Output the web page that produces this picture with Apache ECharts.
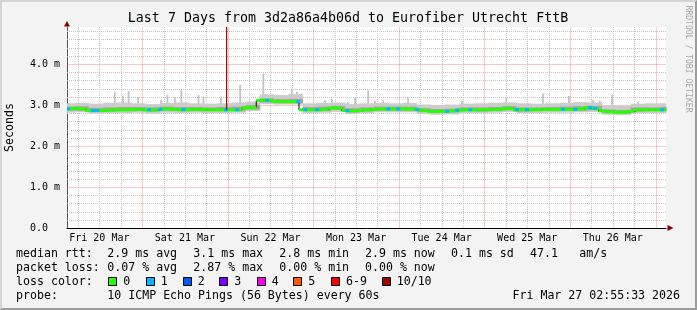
<!DOCTYPE html>
<html><head><meta charset="utf-8">
<script src="https://cdn.jsdelivr.net/npm/echarts@6/dist/echarts.min.js"></script>
<style>
html,body{margin:0;padding:0;background:#f3f3f3;}
#wrap{position:relative;width:697px;height:310px;}
#c{width:697px;height:310px;}
#frame{position:absolute;left:0;top:0;width:697px;height:310px;box-sizing:border-box;border-top:2px solid #d4d4d4;border-left:2px solid #d4d4d4;border-right:2px solid #9c9c9c;border-bottom:2px solid #9c9c9c;pointer-events:none;}
</style></head>
<body><div id="wrap"><div id="c"></div><div id="frame"></div></div>
<script>
// ---- axis ranges (hours since Fri 20 Mar 00:00) ----
const X_MIN = 2.9258, X_MAX = 170.9258;
const Y_MAX = 4.9;
const titleText = 'Last 7 Days from 3d2a86a4b06d to Eurofiber Utrecht FttB';
const dayLabels = ['Fri 20 Mar','Sat 21 Mar','Sun 22 Mar','Mon 23 Mar','Tue 24 Mar','Wed 25 Mar','Thu 26 Mar'];
const dayLabelHours = [12,36,60,84,108,132,156];
const yLabelValues = [0,1,2,3,4];
const majorXGrid = [24,48,72,96,120,144,168];
const minorXGrid = [6,12,18,30,36,42,54,60,66,78,84,90,102,108,114,126,132,138,150,156,162];
const majorYGrid = [1,2,3,4];
const minorYGrid = [0.2,0.4,0.6,0.8,1.2,1.4,1.6,1.8,2.2,2.4,2.6,2.8,3.2,3.4,3.6,3.8,4.2,4.4,4.6,4.8];

// ---- median rtt (ms), every 2 h starting at hour 3 ----
const medStart = 3, medStep = 2;
const medianMs = [
 2.90,2.91,2.90,2.86,2.86,2.86,2.87,2.88,2.88,2.88,2.89,
 2.88,2.87,2.89,2.90,2.89,2.88,2.88,2.89,2.88,2.88,2.88,
 2.88,2.88,2.88,2.93,2.93,3.11,3.11,3.09,3.08,3.08,3.08,
 2.88,2.88,2.88,2.89,2.92,2.92,2.86,2.85,2.86,2.88,2.89,
 2.90,2.90,2.90,2.90,2.90,2.89,2.86,2.84,2.84,2.84,2.85,
 2.87,2.88,2.88,2.88,2.88,2.89,2.90,2.91,2.88,2.88,2.88,
 2.88,2.89,2.89,2.89,2.89,2.89,2.90,2.93,2.91,2.85,2.83,
 2.82,2.82,2.84,2.88,2.88,2.88,2.88,2.88
];

// ---- smoke (ms), every 4 h starting at hour 3 ----
const smokeStart = 3, smokeStep = 4;
const smokeMin = [2.81,2.82,2.79,2.80,2.80,2.81,2.79,2.81,2.80,2.81,2.80,2.80,2.81,2.85,3.02,3.01,3.01,2.80,2.81,2.83,2.78,2.80,2.82,2.82,2.82,2.78,2.76,2.77,2.80,2.80,2.81,2.83,2.80,2.80,2.81,2.81,2.82,2.83,2.76,2.75,2.80,2.80,2.80];
const smokeLo  = [2.86,2.86,2.83,2.84,2.85,2.85,2.84,2.86,2.85,2.85,2.85,2.85,2.85,2.89,3.06,3.04,3.04,2.85,2.85,2.88,2.82,2.84,2.86,2.86,2.86,2.83,2.81,2.82,2.85,2.84,2.85,2.87,2.84,2.85,2.85,2.86,2.86,2.87,2.80,2.79,2.84,2.85,2.85];
const smokeHi  = [2.96,2.97,2.93,2.94,2.95,2.95,2.94,2.96,2.95,2.95,2.94,2.95,2.96,3.00,3.16,3.14,3.15,2.95,2.96,2.98,2.92,2.94,2.96,2.96,2.96,2.92,2.90,2.91,2.94,2.94,2.95,2.97,2.94,2.94,2.95,2.96,2.97,2.98,2.89,2.88,2.94,2.94,2.95];
const smokeMax = [3.04,3.05,3.03,3.05,3.06,3.04,3.02,3.05,3.06,3.04,3.03,3.04,3.06,3.08,3.26,3.24,3.27,3.04,3.05,3.06,3.02,3.04,3.05,3.04,3.05,3.01,3.00,3.01,3.03,3.04,3.05,3.06,3.04,3.03,3.04,3.05,3.07,3.06,2.99,2.98,3.03,3.04,3.04];

// ---- outlier spikes ----
const spikeHours = [16.3,18.6,20.2,22.9,29.3,31.1,33.2,35.0,39.8,41.2,46.1,51.5,58.0,66.0,67.4,75.3,77.2,81.7,83.7,87.4,89.3,91.6,98.6,113.7,126.1,136.4,143.7,150.5,152.4,155.8,163.1];
const spikeMs    = [3.31,3.22,3.34,3.19,3.12,3.25,3.19,3.38,3.24,3.20,3.20,3.49,3.77,3.40,3.32,3.12,3.15,3.07,3.18,3.36,3.10,3.11,3.17,3.10,3.16,3.28,3.22,3.12,3.10,3.24,3.08];

// ---- loss markers ----
const loss1Hours = [3.2,10.2,11.3,25.9,29.0,35.5,47.5,50.6,59.0,67.7,69.7,73.0,81.5,93.0,95.8,101.1,109.5,112.3,116.0,129.1,131.9,142.0,145.4,149.6,151.0,169.8];
const loss10Hours = [47.7];

// ---- legend ----
const lossLabels = ['0','1','2','3','4','5','6-9','10/10'];
const lossColors = ['#26ff00','#00b8ff','#0059ff','#7e00ff','#ff00ee','#ff5a00','#ff0000','#a00000'];
const statRows = [
  ['median rtt:', '2.9 ms avg', '3.1 ms max', '2.8 ms min', '2.9 ms now', '0.1 ms sd', '47.1', 'am/s'],
  ['packet loss:', '0.07 % avg', '2.87 % max', '0.00 % min', '0.00 % now']
];
const probeText = ['probe:', '10 ICMP Echo Pings (56 Bytes) every 60s'];
const dateText = 'Fri Mar 27 02:55:33 2026';

// ---------------------------------------------------------------
const medHours = medianMs.map((v,i)=>medStart + i*medStep);
const smokeHours = smokeMin.map((v,i)=>smokeStart + i*smokeStep);
function medianAt(t){
  let i = Math.round((t-medStart)/medStep);
  i = Math.max(0, Math.min(medianMs.length-1, i));
  return medianMs[i];
}
const MONO = 'DejaVu Sans Mono';
const clampX = t => Math.max(X_MIN, Math.min(X_MAX, t));

// grid lines, item = [axis(0=x,1=y), value]
function gridRender(color, dash){
  return function(params, api){
    const ax = api.value(0), v = api.value(1);
    let p1, p2;
    if (ax === 0) { p1 = api.coord([v, 0]); p2 = api.coord([v, Y_MAX]); const x = Math.round(p1[0]) + 0.5; p1[0] = x; p2[0] = x; }
    else { p1 = api.coord([X_MIN, v]); p2 = api.coord([X_MAX, v]); const y = Math.round(p1[1]) + 0.5; p1[1] = y; p2[1] = y; }
    return {type:'line', shape:{x1:p1[0], y1:p1[1], x2:p2[0], y2:p2[1]},
      style:{stroke: color, fill:null, lineWidth:1, lineDash:dash}};
  };
}
const minorGridItems = minorXGrid.map(v=>[0,v]).concat(minorYGrid.map(v=>[1,v]));
const majorGridItems = majorXGrid.map(v=>[0,v]).concat(majorYGrid.map(v=>[1,v]));

function smokeRender(params, api){
  const t = api.value(0);
  const a = api.coord([clampX(t - smokeStep/2), api.value(4)]);
  const b = api.coord([clampX(t + smokeStep/2), api.value(1)]);
  const c = api.coord([clampX(t - smokeStep/2), api.value(3)]);
  const d = api.coord([clampX(t + smokeStep/2), api.value(2)]);
  return {type:'group', children:[
    {type:'rect', shape:{x:a[0], y:a[1], width:b[0]-a[0]+0.4, height:b[1]-a[1]}, style:{fill:'#cccccc'}},
    {type:'rect', shape:{x:c[0], y:c[1], width:d[0]-c[0]+0.4, height:d[1]-c[1]}, style:{fill:'#a6a6a6'}}
  ]};
}
function spikeRender(params, api){
  const t = api.value(0);
  const top = api.coord([t, api.value(1)]);
  const base = api.coord([t, medianAt(t)]);
  return {type:'rect', shape:{x:top[0]-0.9, y:top[1], width:1.8, height:base[1]-top[1]}, style:{fill:'#c2c2c2'}};
}
function segRender(halfWidth, color){
  return function(params, api){
    const t = api.value(0), v = api.value(1);
    const a = api.coord([clampX(t - halfWidth), v]);
    const b = api.coord([clampX(t + halfWidth), v]);
    return {type:'rect', shape:{x:a[0], y:a[1]-1.6, width:b[0]-a[0]+0.3, height:3}, style:{fill:color}};
  };
}
function lossLineRender(params, api){
  const t = api.value(0);
  const top = api.coord([t, Y_MAX]);
  const bot = api.coord([t, medianAt(t)]);
  return {type:'line', shape:{x1:top[0], y1:top[1], x2:bot[0], y2:bot[1]}, style:{stroke:'#a00000', lineWidth:1.2}};
}

const graphics = [];
const txt = (x,y,text,opt={}) => graphics.push(Object.assign({type:'text', x:x, y:y, silent:true,
  style:Object.assign({text:text, fill:'#000', font:'11.6px "'+MONO+'"', verticalAlign:'middle', align:'left'}, opt.style||{})}, opt.el||{}));
txt(348, 19, titleText, {style:{align:'center', font:'13.3px "'+MONO+'"'}});
txt(10, 127.5, 'Seconds', {style:{align:'center'}, el:{rotation:Math.PI/2}});
txt(688, 59, 'RRDTOOL / TOBI OETIKER', {style:{align:'center', font:'8.1px "'+MONO+'"', fill:'#a8a8a8'}, el:{rotation:-Math.PI/2}});
const statX = [16, 107.3, 193.3, 279.3, 365, 451, 530, 579.3];
statRows.forEach((row, r)=>row.forEach((s, j)=>txt(statX[j], 254 + r*14, s)));
txt(16, 282, 'loss color:');
const boxX = [108.3,145.7,182.7,219.3,256.7,293.3,331,381.7];
lossLabels.forEach((lab, k)=>{
  graphics.push({type:'rect', silent:true, shape:{x:Math.round(boxX[k])+0.5, y:277.5, width:8, height:8},
    style:{fill:lossColors[k], stroke:'#000', lineWidth:1}});
  txt(boxX[k]+15, 282, lab);
});
txt(16, 296, probeText[0]);
txt(107.3, 296, probeText[1]);
txt(680, 296, dateText, {style:{align:'right'}});
graphics.push({type:'polygon', silent:true, shape:{points:[[64,26.5],[70,26.5],[67,21]]}, style:{fill:'#8b0000'}});
graphics.push({type:'polygon', silent:true, shape:{points:[[667.5,225],[667.5,231],[673.5,228]]}, style:{fill:'#8b0000'}});

const chart = echarts.init(document.getElementById('c'), null, {renderer:'canvas'});
chart.setOption({
  animation:false,
  backgroundColor:'#f3f3f3',
  grid:{left:67, right:31, top:27, bottom:82, show:true, backgroundColor:'#ffffff', borderWidth:0},
  xAxis:{type:'value', min:X_MIN, max:X_MAX,
    axisLine:{show:true, lineStyle:{color:'#000', width:1}},
    axisTick:{show:false}, splitLine:{show:false},
    axisLabel:{customValues:dayLabelHours, margin:5, fontFamily:MONO, fontSize:10, color:'#000',
      formatter:v=>{const i=dayLabelHours.indexOf(v); return i>=0?dayLabels[i]:'';}}},
  yAxis:{type:'value', min:0, max:Y_MAX, interval:1,
    axisLine:{show:true, lineStyle:{color:'#555', width:1}},
    axisTick:{show:false}, splitLine:{show:false},
    axisLabel:{customValues:yLabelValues, align:'left', margin:37, fontFamily:MONO, fontSize:10, color:'#000',
      formatter:v=> v===0 ? '0.0' : (Number.isInteger(v) ? v.toFixed(1)+' m' : '')}},
  graphic:graphics,
  series:[
    {type:'custom', name:'minorGrid', silent:true, z:1, renderItem:gridRender('#c4c4c4', [1,1]), data:minorGridItems},
    {type:'custom', name:'majorGrid', silent:true, z:1, renderItem:gridRender('rgba(240,90,90,0.33)', null), data:majorGridItems},
    {type:'custom', silent:true, z:2, renderItem:spikeRender,
      data:spikeHours.map((t,i)=>[t, spikeMs[i]])},
    {type:'custom', silent:true, z:3, renderItem:smokeRender,
      data:smokeHours.map((t,k)=>[t, smokeMin[k], smokeLo[k], smokeHi[k], smokeMax[k]])},
    {type:'line', silent:true, z:4, step:'middle', symbol:'none',
      lineStyle:{color:'#000', width:1}, data:medHours.map((t,i)=>[t, medianMs[i]])},
    {type:'custom', silent:true, z:5, renderItem:segRender(medStep/2, lossColors[0]),
      data:medHours.map((t,i)=>[t, medianMs[i]])},
    {type:'custom', silent:true, z:6, renderItem:segRender(0.5, lossColors[1]),
      data:loss1Hours.map(t=>[t, medianAt(t)])},
    {type:'custom', silent:true, z:6, renderItem:lossLineRender,
      data:loss10Hours.map(t=>[t, Y_MAX])}
  ]
});
</script></body></html>
